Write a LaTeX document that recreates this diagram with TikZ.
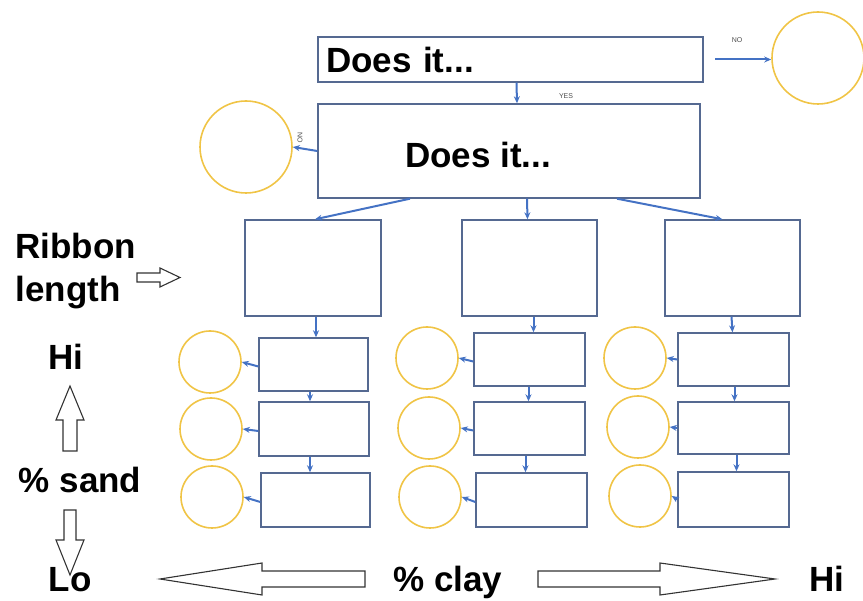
\documentclass[tikz,border=0pt]{standalone}
\usepackage{fontspec}
\setmainfont{Liberation Sans}
\usetikzlibrary{arrows.meta}
\definecolor{boxline}{RGB}{85,105,145}
\definecolor{circline}{RGB}{240,196,70}
\definecolor{arrblue}{RGB}{68,114,196}
\tikzset{
  bx/.style={draw=boxline,line width=1.4pt,minimum width=#1,inner sep=0pt},
  circ/.style={draw=circline,line width=1.6pt,circle,minimum size=#1,inner sep=0pt},
  arr/.style={draw=arrblue,line width=2pt,-{Stealth[length=7pt,width=6pt]}},
  big/.style={font=\fontsize{35}{40}\selectfont\bfseries},
  tiny/.style={font=\fontsize{7}{8}\selectfont,text=black!70},
  blockarr/.style={draw=black!80,line width=1.1pt,fill=white,line join=miter}
}
\begin{document}
\begin{tikzpicture}[x=1pt,y=-1pt]
\useasboundingbox (0,0) rectangle (863,601);
% top
\node[bx=385pt,minimum height=45pt,text width=369pt,align=left,inner xsep=8pt,big] (b1) at (510.5,59.5) {Does it...};
\node[circ=92pt] (c0) at (818,58) {};
\node[bx=382pt,minimum height=94pt] (b2) at (509,151) {};
\node[big] (t2) at (478,155) {Does it...};
\node[circ=92pt] (c1) at (246,147) {};
\coordinate (n0) at (715,59.5);
\draw[arr] (n0) -- (c0.west |- n0);
\node[tiny] (no1) at (737,40) {NO};
\draw[arr] ([xshift=6]b1.south) -- ([xshift=8]b2.north);
\node[tiny] (yes1) at (566,96) {YES};
\draw[arr] (b2.west) -- (c1.east);
\node[tiny,rotate=-90] (no2) at (300,138) {NO};
% second level
\node[bx=136pt,minimum height=96pt] (A) at (313,268) {};
\node[bx=135pt,minimum height=96pt] (B) at (529.5,268) {};
\node[bx=135pt,minimum height=96pt] (C) at (732.5,268) {};
\draw[arr] ([xshift=-99]b2.south) -- ([xshift=2]A.north);
\draw[arr] ([xshift=18]b2.south) -- ([xshift=-2]B.north);
\draw[arr] ([xshift=108]b2.south) -- ([xshift=-10]C.north);
% column 1
\node[bx=109pt,minimum height=53pt] (s11) at (313.5,364.5) {};
\node[bx=110pt,minimum height=54pt] (s12) at (314,429) {};
\node[bx=109pt,minimum height=54pt] (s13) at (315.5,500) {};
\node[circ=62pt] (c11) at (210,362) {};
\node[circ=62pt] (c12) at (211,429) {};
\node[circ=62pt] (c13) at (212,497) {};
\draw[arr] ([xshift=3]A.south) -- ([xshift=2.5]s11.north);
\draw[arr] ([xshift=-3.5]s11.south) -- ([xshift=-4]s12.north);
\draw[arr] ([xshift=-4]s12.south) -- ([xshift=-5.5]s13.north);
\draw[arr] ([yshift=-2]s11.west) -- (c11.east);
\draw[arr] ([yshift=-2]s12.west) -- (c12.east);
\draw[arr] ([yshift=-2]s13.west) -- (c13.east);
% column 2
\node[bx=111pt,minimum height=53pt] (s21) at (529.5,359.5) {};
\node[bx=111pt,minimum height=53pt] (s22) at (529.5,428.5) {};
\node[bx=111pt,minimum height=54pt] (s23) at (531.5,500) {};
\node[circ=62pt] (c21) at (427,358) {};
\node[circ=62pt] (c22) at (429,428) {};
\node[circ=62pt] (c23) at (430,497) {};
\draw[arr] ([xshift=4]B.south) -- ([xshift=4]s21.north);
\draw[arr] ([xshift=-1]s21.south) -- ([xshift=-1]s22.north);
\draw[arr] ([xshift=-4]s22.south) -- ([xshift=-6]s23.north);
\draw[arr] ([yshift=-2]s21.west) -- (c21.east);
\draw[arr] ([yshift=-2]s22.west) -- (c22.east);
\draw[arr] ([yshift=-2]s23.west) -- (c23.east);
% column 3
\node[bx=111pt,minimum height=53pt] (s31) at (733.5,359.5) {};
\node[bx=111pt,minimum height=52pt] (s32) at (733.5,428) {};
\node[bx=111pt,minimum height=55pt] (s33) at (733.5,499.5) {};
\node[circ=62pt] (c31) at (635,358) {};
\node[circ=62pt] (c32) at (638,427) {};
\node[circ=62pt] (c33) at (640,496) {};
\draw[arr] ([xshift=-1]C.south) -- ([xshift=-1]s31.north);
\draw[arr] ([xshift=1]s31.south) -- ([xshift=1]s32.north);
\draw[arr] ([xshift=3]s32.south) -- ([xshift=3]s33.north);
\draw[arr] (s31.west) -- (c31.east);
\draw[arr] (s32.west) -- (c32.east);
\draw[arr] (s33.west) -- (c33.east);
% side labels
\node[big,anchor=base west] (rib) at (12,259) {Ribbon};
\node[big,anchor=base west] (len) at (12,302) {length};
\draw[blockarr] (137,273) -- (160,273) -- (160,268) -- (180,277.5) -- (160,287) -- (160,282) -- (137,282) -- cycle;
\node[big,anchor=base] (hi1) at (66,370) {Hi};
\draw[blockarr] (70,386) -- (84,420) -- (77,420) -- (77,451) -- (63,451) -- (63,420) -- (56,420) -- cycle;
\node[big,anchor=base] (sand) at (80,493) {\% sand};
\draw[blockarr] (64,510) -- (76,510) -- (76,540) -- (84,540) -- (70,575) -- (56,540) -- (64,540) -- cycle;
\node[big,anchor=base] (lo) at (70,592) {Lo};
\node[big,anchor=base] (clay) at (448,592) {\% clay};
\node[big,anchor=base] (hi2) at (827,592) {Hi};
\draw[blockarr] (160,579) -- (262,563) -- (262,571) -- (365,571) -- (365,587) -- (262,587) -- (262,595) -- cycle;
\draw[blockarr] (775,579) -- (660,563) -- (660,571) -- (538,571) -- (538,587) -- (660,587) -- (660,595) -- cycle;
\end{tikzpicture}
\end{document}
